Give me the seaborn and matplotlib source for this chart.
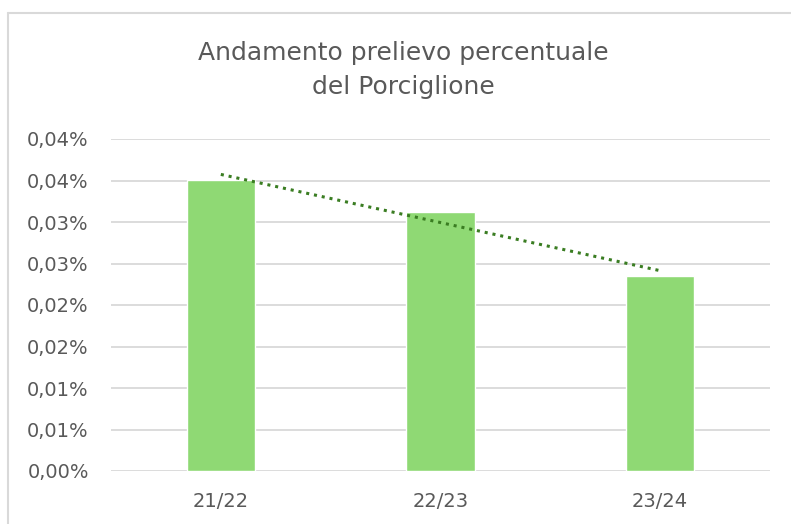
import numpy as np
import matplotlib
matplotlib.use("Agg")
import matplotlib.pyplot as plt
import seaborn as sns
from matplotlib.lines import Line2D

# dati (prelievo in %)
stagioni = ["21/22", "22/23", "23/24"]
prelievo = [0.0351, 0.0312, 0.0235]
y_ticks = [0.0, 0.005, 0.010, 0.015, 0.020, 0.025, 0.030, 0.035, 0.040]
y_labels = ["0,00%", "0,01%", "0,01%", "0,02%", "0,02%", "0,03%", "0,03%", "0,04%", "0,04%"]

sns.set_theme(style="white")
plt.rcParams['font.family'] = ['DejaVu Sans']

grigio = "#595959"

fig = plt.figure(figsize=(7.91, 5.24), dpi=100)
ax = fig.add_axes([111 / 791, 53 / 524, 659 / 791, 332 / 524])

sns.barplot(x=stagioni, y=prelievo, color="#8FD974", saturation=1,
            width=0.31, ax=ax, zorder=3)

# linea di tendenza lineare
xs = np.arange(len(prelievo))
coef = np.polyfit(xs, prelievo, 1)
ax.plot(xs, np.polyval(coef, xs), linestyle=(0, (1, 1.6)), color="#3A7D22",
        linewidth=2.2, zorder=4)

ax.set_ylim(0, 0.04)
ax.set_xlim(-0.5, 2.5)
ax.set_yticks(y_ticks)
ax.set_yticklabels(y_labels)
ax.yaxis.grid(True, color="#D9D9D9", linewidth=1.3, zorder=0)
ax.set_axisbelow(True)
for s in ax.spines.values():
    s.set_visible(False)
ax.tick_params(axis='y', length=0, pad=16, labelsize=14, labelcolor=grigio)
ax.tick_params(axis='x', length=0, pad=15, labelsize=14, labelcolor=grigio)
ax.set_xlabel("")
ax.set_ylabel("")

fig.text(403 / 791, 1 - 70 / 524, "Andamento prelievo percentuale\ndel Porciglione",
         ha='center', va='center', fontsize=18, color=grigio, linespacing=1.55)

# bordo dell'area grafico (solo lati sinistro e superiore visibili)
x0 = 8 / 791
y0 = 1 - 13 / 524
fig.lines.append(Line2D([x0, 1.0], [y0, y0], transform=fig.transFigure,
                        color="#D9D9D9", linewidth=1.5))
fig.lines.append(Line2D([x0, x0], [0, y0], transform=fig.transFigure,
                        color="#D9D9D9", linewidth=1.5))

fig.savefig("out.png", dpi=100)
